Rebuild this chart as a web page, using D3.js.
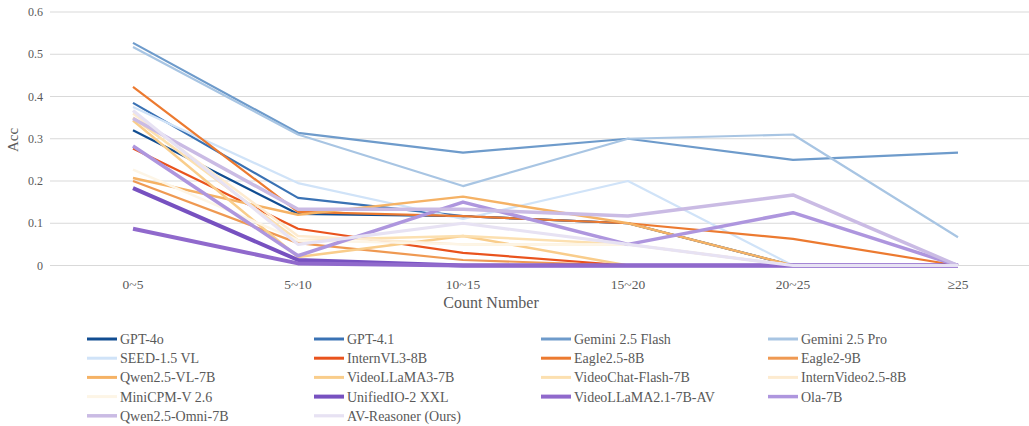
<!DOCTYPE html>
<html>
<head>
<meta charset="utf-8">
<style>
  body { margin: 0; background: #fff; }
  svg text { font-family: "Liberation Serif", "Times New Roman", serif; fill: #595959; }
</style>
</head>
<body>
<svg id="chart" width="1029" height="426"></svg>
<script src="https://d3js.org/d3.v7.min.js"></script>
<script>
// categories on the x axis
var categories = ["0~5", "5~10", "10~15", "15~20", "20~25", "\u226525"];
var yTicks = [0, 0.1, 0.2, 0.3, 0.4, 0.5, 0.6];

// one array per model
var gpt4o        = [0.320, 0.122, 0.117, 0.100, 0, 0];
var gpt41        = [0.385, 0.160, 0.117, 0.100, 0, 0];
var geminiFlash  = [0.527, 0.314, 0.267, 0.300, 0.250, 0.267];
var geminiPro    = [0.517, 0.310, 0.188, 0.300, 0.310, 0.067];
var seed15       = [0.375, 0.195, 0.110, 0.200, 0, 0];
var internvl3    = [0.277, 0.087, 0.030, 0, 0, 0];
var eagle25      = [0.423, 0.127, 0.117, 0.100, 0.063, 0];
var eagle2       = [0.200, 0.053, 0.013, 0, 0, 0];
var qwen25vl     = [0.207, 0.120, 0.163, 0.100, 0, 0];
var videollama3  = [0.343, 0.020, 0.070, 0, 0, 0];
var videochat    = [0.350, 0.060, 0.070, 0.050, 0, 0];
var internvideo  = [0.360, 0.070, 0.050, 0.050, 0, 0];
var minicpm      = [0.227, 0.060, 0.050, 0.050, 0, 0];
var unifiedio    = [0.183, 0.013, 0, 0, 0, 0];
var videollama21 = [0.087, 0.005, 0, 0, 0, 0];
var ola          = [0.283, 0.023, 0.150, 0.050, 0.125, 0];
var qwenOmni     = [0.348, 0.133, 0.133, 0.117, 0.167, 0];
var avReasoner   = [0.367, 0.050, 0.100, 0.050, 0, 0];

var seriesNames = ["GPT-4o", "GPT-4.1", "Gemini 2.5 Flash", "Gemini 2.5 Pro",
  "SEED-1.5 VL", "InternVL3-8B", "Eagle2.5-8B", "Eagle2-9B",
  "Qwen2.5-VL-7B", "VideoLLaMA3-7B", "VideoChat-Flash-7B", "InternVideo2.5-8B",
  "MiniCPM-V 2.6", "UnifiedIO-2 XXL", "VideoLLaMA2.1-7B-AV", "Ola-7B",
  "Qwen2.5-Omni-7B", "AV-Reasoner (Ours)"];
var seriesValues = [gpt4o, gpt41, geminiFlash, geminiPro, seed15, internvl3, eagle25, eagle2,
  qwen25vl, videollama3, videochat, internvideo, minicpm, unifiedio, videollama21, ola,
  qwenOmni, avReasoner];

var colors = ["#114d91", "#3a72b4", "#6e9bcb", "#a8c5e3", "#d0e3f8", "#e9531d", "#ec7a30", "#ef9952",
  "#f5b265", "#f9cd8b", "#fce0b0", "#fdebd0", "#fdf5e6", "#7751c0", "#9069cc", "#ae96de",
  "#cabbe4", "#e7e2f3"];
var widths = [2.2, 2.2, 2.2, 2.2, 2.2, 2.2, 2.2, 2.2, 2.5, 2.5, 2.5, 2.5, 2.5, 4, 4, 3.5, 3.5, 3.2];

var svg = d3.select("#chart");

var x = d3.scaleBand().domain(categories).range([50.5, 1040.5]);
var y = d3.scaleLinear().domain([0, 0.6]).range([265.5, 12]);
function cx(c) { return x(c) + x.bandwidth() / 2; }

// gridlines
svg.append("g").selectAll("line")
  .data(yTicks)
  .enter().append("line")
    .attr("x1", 50).attr("x2", 1029)
    .attr("y1", function(d) { return y(d); })
    .attr("y2", function(d) { return y(d); })
    .attr("stroke", "#d9d9d9")
    .attr("stroke-width", 1.2);

// y tick labels
svg.append("g").selectAll("text")
  .data(yTicks)
  .enter().append("text")
    .attr("x", 43)
    .attr("y", function(d) { return y(d); })
    .attr("dy", "0.35em")
    .attr("text-anchor", "end")
    .style("font-size", "12px")
    .text(function(d) { return d === 0 ? "0" : d3.format(".1f")(d); });

// x tick labels
svg.append("g").selectAll("text")
  .data(categories)
  .enter().append("text")
    .attr("x", function(d) { return cx(d); })
    .attr("y", 289)
    .attr("text-anchor", "middle")
    .style("font-size", "13.5px")
    .text(function(d) { return d; });

svg.append("text")
  .attr("transform", "translate(18,140) rotate(-90)")
  .attr("text-anchor", "middle")
  .style("font-size", "15px")
  .text("Acc");

svg.append("text")
  .attr("x", 491)
  .attr("y", 308)
  .attr("text-anchor", "middle")
  .style("font-size", "16px")
  .text("Count Number");

var line = d3.line()
  .x(function(d, i) { return cx(categories[i]); })
  .y(function(d) { return y(d); });

svg.append("g").selectAll("path")
  .data(seriesValues)
  .enter().append("path")
    .attr("d", line)
    .attr("fill", "none")
    .attr("stroke", function(d, i) { return colors[i]; })
    .attr("stroke-width", function(d, i) { return widths[i]; })
    .attr("stroke-linejoin", "round");

// legend, 4 columns
var legend = svg.append("g").selectAll("g")
  .data(seriesNames)
  .enter().append("g")
    .attr("transform", function(d, i) {
      return "translate(" + (87 + (i % 4) * 227) + "," + (339 + Math.floor(i / 4) * 19.2) + ")";
    });

legend.append("line")
  .attr("x1", 0).attr("x2", 30)
  .attr("stroke", function(d, i) { return colors[i]; })
  .attr("stroke-width", function(d, i) { return Math.max(widths[i], 3); });

legend.append("text")
  .attr("x", 33)
  .attr("dy", "0.35em")
  .style("font-size", "14px")
  .text(function(d) { return d; });
</script>
</body>
</html>
